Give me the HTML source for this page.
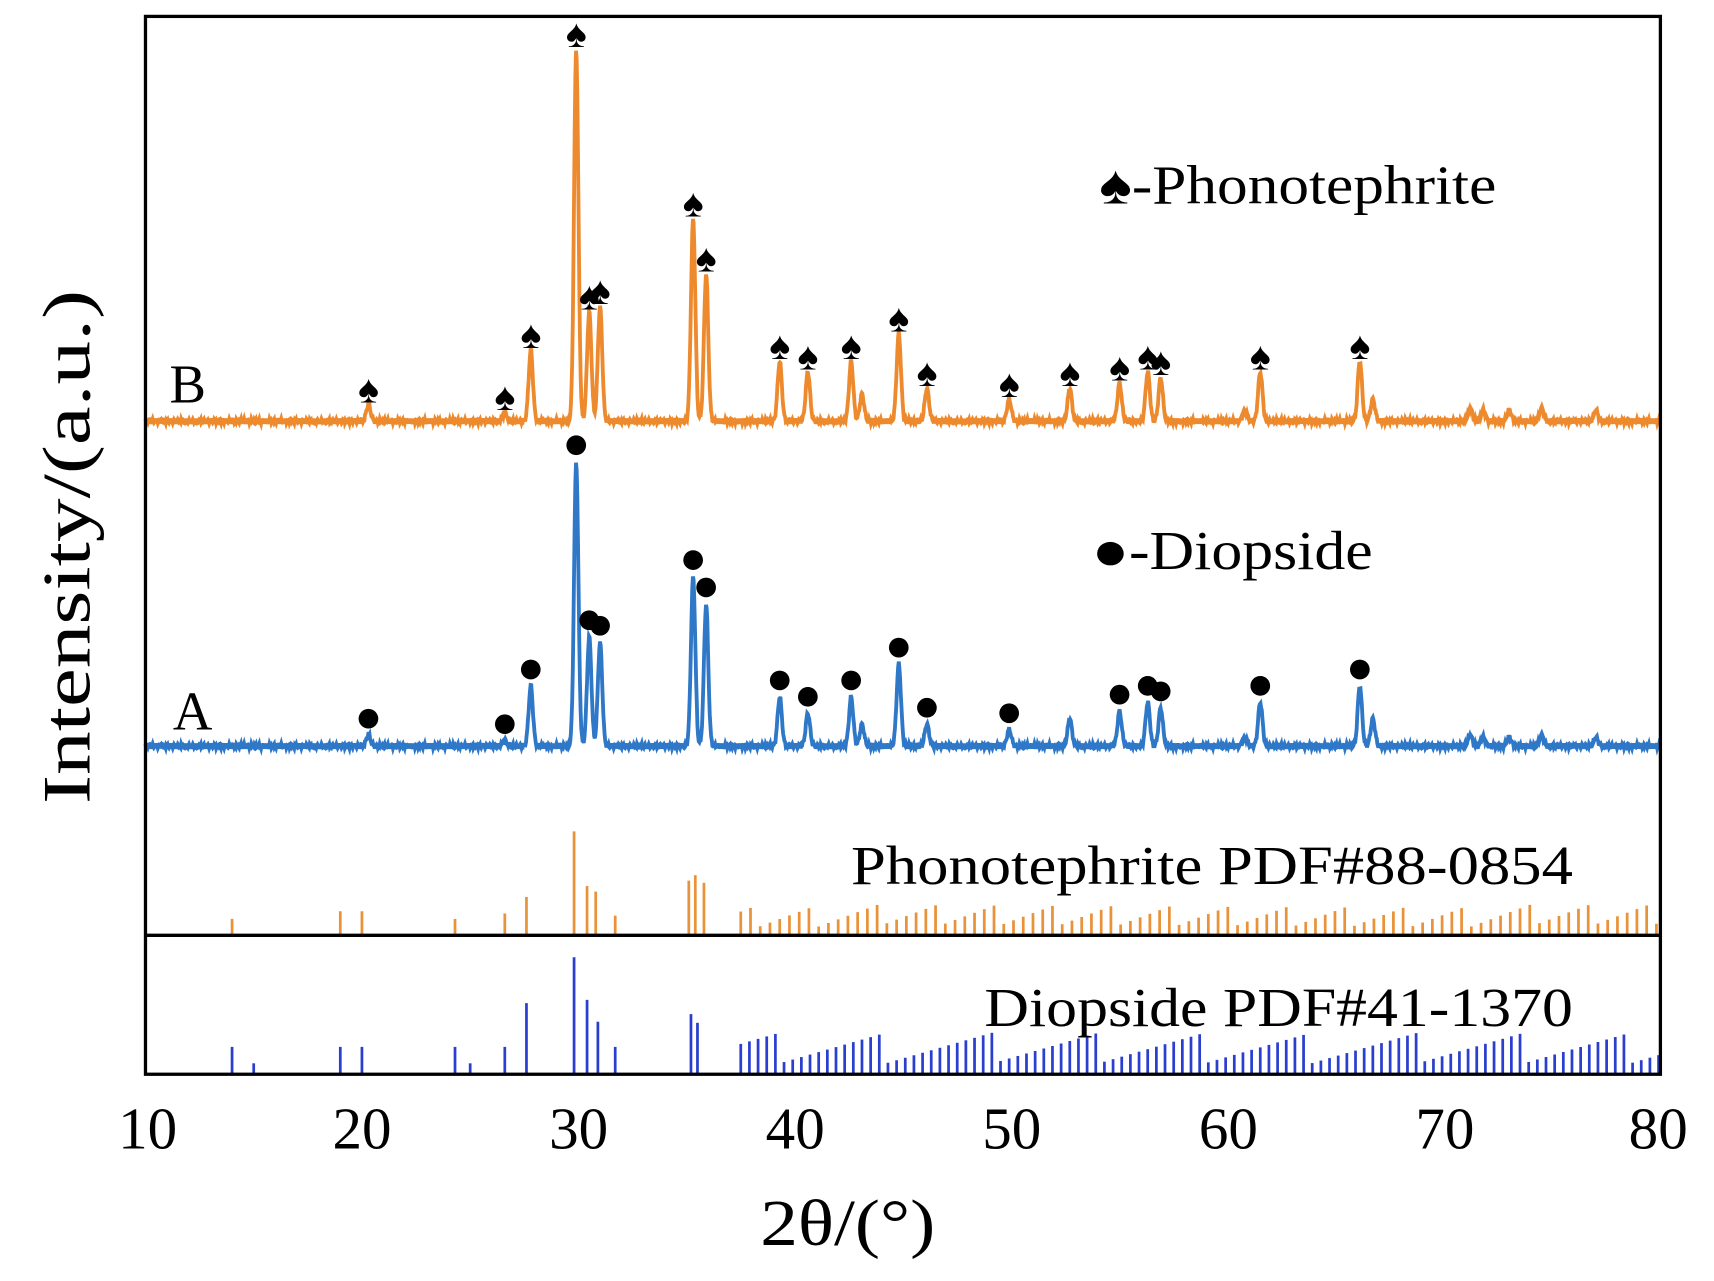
<!DOCTYPE html><html><head><meta charset="utf-8"><style>html,body{margin:0;padding:0;background:#fff}svg{display:block}text{font-family:"Liberation Serif",serif;fill:#000}</style></head><body>
<svg id="s" width="1714" height="1281" viewBox="0 0 1567 1171" preserveAspectRatio="none" xmlns="http://www.w3.org/2000/svg">
<g id="g"></g>
<rect x="133" y="15" width="1385" height="967" fill="none" stroke="#000" stroke-width="3"/>
<line x1="133" y1="855" x2="1518" y2="855" stroke="#000" stroke-width="3"/>
<g font-size="54" text-anchor="middle">
<text x="135" y="1050">10</text><text x="331" y="1050">20</text><text x="529" y="1050">30</text><text x="727" y="1050">40</text><text x="925" y="1050">50</text><text x="1123" y="1050">60</text><text x="1321" y="1050">70</text><text x="1516" y="1050">80</text>
</g>
<text x="695" y="1138" font-size="60" textLength="160" lengthAdjust="spacingAndGlyphs">2θ/(°)</text>
<text transform="translate(82,735) rotate(-90)" font-size="62" textLength="470" lengthAdjust="spacingAndGlyphs">Intensity/(a.u.)</text>
<g font-size="50">
<text x="1005" y="186" textLength="363" lengthAdjust="spacingAndGlyphs">♠-Phonotephrite</text>
<text x="998" y="520" textLength="257" lengthAdjust="spacingAndGlyphs">●-Diopside</text>
<text x="155" y="368">B</text><text x="158" y="667">A</text>
<text x="778" y="808" textLength="660" lengthAdjust="spacingAndGlyphs">Phonotephrite PDF#88-0854</text>
<text x="900" y="938" textLength="538" lengthAdjust="spacingAndGlyphs">Diopside PDF#41-1370</text>
</g>
</svg>
<script>
var X=t=>133+(t-10)*19.79;
var pk=[[20.3,15,10],[26.6,8,5],[27.8,65,55],[29.9,340,260],[30.5,100,100],[31.0,105,95],[35.3,185,155],[35.9,135,130],[39.3,55,45],[40.6,45,30],[42.6,55,45],[44.8,80,75],[46.1,30,20],[49.9,20,15],[52.7,30,25],[55.0,35,32],[56.3,45,40],[56.9,40,35],[61.5,45,40],[66.1,55,55],[66.7,20,25],[60.8,10,8],[43.1,25,20],[71.2,12,10],[71.8,10,8],[73,10,8],[74.5,12,10],[77,10,8]];
var ma=[20.3,26.6,27.8,29.9,30.5,31.0,35.3,35.9,39.3,40.6,42.6,44.8,46.1,49.9,52.7,55.0,56.3,56.9,61.5,66.1];
function path(base,idx){var d="";for(var t=10;t<=80;t+=0.03){var y=base;for(var p of pk){var w=0.14;y-=p[idx]*Math.exp(-Math.pow((t-p[0])/w,2));}y+=Math.sin(t*37)*1.5+Math.sin(t*91)*1;d+=(d?"L":"M")+X(t).toFixed(1)+","+y.toFixed(1);}return d;}
var g=document.getElementById("g"),h="";
h+='<path d="'+path(385,1)+'" fill="none" stroke="#ee8a2e" stroke-width="3.5"/>';
h+='<path d="'+path(682,2)+'" fill="none" stroke="#2f78c8" stroke-width="3.5"/>';
for(var t of ma){var p=pk.find(q=>q[0]==t);var x=X(t);
h+='<text x="'+x+'" y="'+(385-p[1]-2)+'" font-size="36" text-anchor="middle">♠</text>';
if(t!=52.7)h+='<circle cx="'+x+'" cy="'+(682-p[2]-15)+'" r="9" fill="#000"/>';}
var st=[[14,15],[19,22],[20,22],[24.3,15],[26.6,20],[27.6,35],[29.8,95],[30.4,45],[30.8,40],[31.7,18],[35.1,50],[35.4,55],[35.8,48]];
for(var t=37.5;t<80;t+=0.45){st.push([t,8+((t*7.3)%20)]);}
var sb=[[14,25],[15,10],[19,25],[20,25],[24.3,25],[25,10],[26.6,25],[27.6,65],[29.8,107],[30.4,68],[30.9,48],[31.7,25],[35.2,55],[35.5,47]];
for(var t=37.5;t<80;t+=0.4){sb.push([t,10+((t*5.7)%28)]);}
for(var s of st)h+='<line x1="'+X(s[0])+'" x2="'+X(s[0])+'" y1="855" y2="'+(855-s[1])+'" stroke="#e8923a" stroke-width="2.5"/>';
for(var s of sb)h+='<line x1="'+X(s[0])+'" x2="'+X(s[0])+'" y1="982" y2="'+(982-s[1])+'" stroke="#2a3fd0" stroke-width="2.5"/>';
g.innerHTML=h;
</script>
</body></html>
